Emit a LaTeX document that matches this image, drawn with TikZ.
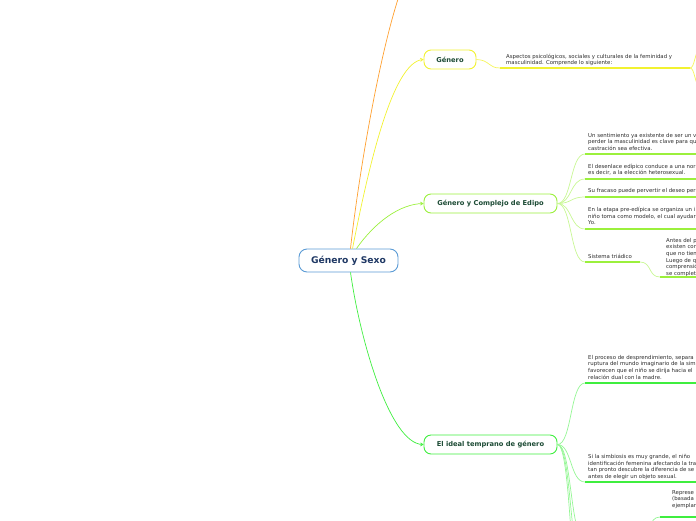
\documentclass[tikz,border=0pt]{standalone}
\usepackage{fontspec}
\setmainfont{DejaVu Sans}
\usetikzlibrary{arrows.meta}
\definecolor{mmblue}{HTML}{5B9BD5}
\definecolor{mmnavy}{HTML}{1F3864}
\definecolor{mmorange}{HTML}{FF9F2E}
\definecolor{mmyellow}{HTML}{F2F230}
\definecolor{mmlime}{HTML}{9BF03C}
\definecolor{mmgreen}{HTML}{3FEE3F}
\definecolor{mmtext}{HTML}{1D4B35}

\begin{document}
\begin{tikzpicture}[x=1pt, y=-1pt,
  rootbox/.style={draw=mmblue, line width=0.9pt, rounded corners=8pt, fill=white,
                  minimum width=99pt, minimum height=23pt,
                  font=\fontsize{9.2}{11}\selectfont\bfseries, text=mmnavy},
  topic/.style={line width=0.9pt, rounded corners=7pt, fill=white, minimum height=19pt,
                font=\fontsize{6.7}{8}\selectfont\bfseries, text=mmtext},
  leaf/.style={anchor=north west, align=left, inner sep=0pt,
               font=\fontsize{5.4}{6.6}\selectfont, text=black!82},
  link/.style={line width=0.7pt},
  uline/.style={line width=1.4pt},
  tip/.style={-{Straight Barb[length=2.5pt,width=3.2pt]}},
]
\clip (0,0) rectangle (696,520);

% Nodo central y temas principales
\node[rootbox] (root) at (348.5,260.5) {Género y Sexo};
\node[topic, draw=mmyellow, minimum width=52pt] (gen) at (450,59.5) {Género};
\node[topic, draw=mmlime, minimum width=133pt] (edipo) at (490.5,203.5) {Género y Complejo de Edipo};
\node[topic, draw=mmgreen, minimum width=133pt] (ideal) at (490.5,444.5) {El ideal temprano de género};

% Ramas desde el centro
\coordinate (offtop) at (399,-4);
\draw[mmorange, link] ([xshift=2pt]root.north) .. controls (358,180) and (378,60) .. (offtop);
\draw[mmyellow, link, tip] ([xshift=4pt]root.north) .. controls (368,170) and (392,62) .. (gen.west);
\draw[mmlime, link, tip] ([xshift=8pt]root.north) .. controls (375,222) and (400,204) .. (edipo.west);
\draw[mmgreen, link, tip] ([xshift=2pt]root.south) .. controls (360,340) and (390,444) .. (ideal.west);

% Género
\node[leaf] (g1) at (506,53.5) {Aspectos psicológicos, sociales y culturales de la feminidad y\\masculinidad. Comprende lo siguiente:};
\coordinate (g1a) at (500,68);
\coordinate (g1b) at (690,68);
\coordinate (g1up) at (702,44);
\coordinate (g1dn) at (702,92);
\draw[mmyellow!80, link] (gen.east) .. controls (490,60) and (488,68) .. (g1a);
\draw[mmyellow, uline] (g1a) -- (g1b);
\draw[mmyellow!80, link] (g1b) .. controls (695,68) and (694,52) .. (g1up);
\draw[mmyellow!80, link] (g1b) .. controls (695,68) and (694,84) .. (g1dn);

% Género y Complejo de Edipo
\node[leaf] (e1) at (588,133) {Un sentimiento ya existente de ser un v\\perder la masculinidad es clave para qu\\castración sea efectiva.};
\node[leaf] (e2) at (588,163.5) {El desenlace edípico conduce a una nor\\es decir, a la elección heterosexual.};
\node[leaf] (e3) at (588,188.5) {Su fracaso puede pervertir el deseo per};
\node[leaf] (e4) at (588,207) {En la etapa pre-edípica se organiza un i\\niño toma como modelo, el cual ayudar\\Yo.};
\node[leaf] (sist) at (588,254) {Sistema triádico};
\node[leaf] (s1) at (666,238) {Antes del p\\existen con\\que no tien\\Luego de q\\comprensió\\se complet};
\foreach \uy/\nm in {154/e1, 179/e2, 197/e3, 229/e4, 262/sist} {
  \coordinate (\nm a) at (585,\uy);
  \draw[mmlime!55, link] (edipo.east) .. controls (572,203.5) and (570,\uy) .. (\nm a);
}
\foreach \nm in {e1, e2, e3, e4} \draw[mmlime, uline] (\nm a) -- +(120,0);
\coordinate (sistb) at (640,262);
\coordinate (s1a) at (660,277);
\draw[mmlime, uline] (sista) -- (sistb);
\draw[mmlime!55, link] (sistb) .. controls (652,262) and (648,277) .. (s1a);
\draw[mmlime, uline] (s1a) -- +(40,0);

% El ideal temprano de género
\node[leaf] (i1) at (588,355) {El proceso de desprendimiento, separa\\ruptura del mundo imaginario de la sim\\favorecen que el niño se dirija hacia el\\relación dual con la madre.};
\node[leaf] (i2) at (588,454) {Si la simbiosis es muy grande, el niño\\identificación femenina afectando la tra\\tan pronto descubre la diferencia de se\\antes de elegir un objeto sexual.};
\node[leaf] (r1) at (672,490) {Represe\\(basada\\ejemplar};
\foreach \uy/\nm in {383/i1, 482/i2, 540/i3, 575/i4, 620/i5} {
  \coordinate (\nm a) at (585,\uy);
  \draw[mmgreen!55, link] (ideal.east) .. controls (572,444.5) and (570,\uy) .. (\nm a);
}
\foreach \nm in {i1, i2} \draw[mmgreen, uline] (\nm a) -- +(120,0);
\coordinate (rpar) at (640,535);
\coordinate (r1a) at (660,517);
\draw[mmgreen!55, link] (rpar) .. controls (652,535) and (648,517) .. (r1a);
\draw[mmgreen, uline] (r1a) -- +(40,0);

\end{tikzpicture}
\end{document}
